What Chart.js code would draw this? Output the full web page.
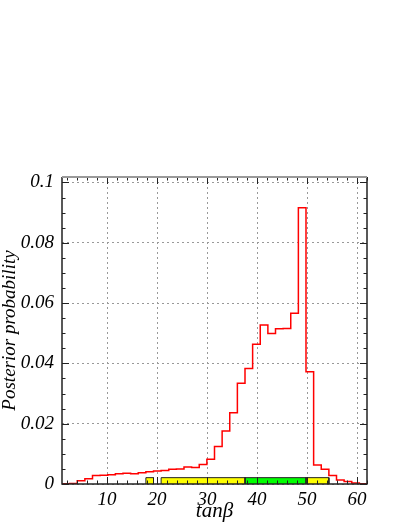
<!DOCTYPE html>
<html>
<head>
<meta charset="utf-8">
<script src="https://cdn.jsdelivr.net/npm/chart.js@4"></script>
<style>
  html, body { margin: 0; padding: 0; background: #fff; }
  #wrap { width: 407px; height: 527px; }
</style>
</head>
<body>
<div id="wrap"><canvas id="myChart" width="407" height="527"></canvas></div>
<script>
// histogram bin edges (tan beta) and posterior per bin
const binEdges = [1, 2.525, 4.05, 5.575, 7.1, 8.625, 10.15, 11.675, 13.2, 14.725, 16.25, 17.775,
    19.3, 20.825, 22.35, 23.875, 25.4, 26.925, 28.45, 29.975, 31.5, 33.025, 34.55, 36.075, 37.6,
    39.125, 40.65, 42.175, 43.7, 45.225, 46.75, 48.275, 49.8, 51.325, 52.85, 54.375, 55.9, 57.425,
    58.95, 60.475, 62];
const posterior = [0.0001, 0.0002, 0.0011, 0.0017, 0.0028, 0.0029, 0.0031, 0.0034, 0.0036, 0.0034,
    0.0037, 0.0041, 0.0043, 0.0045, 0.0049, 0.0050, 0.0056, 0.0055, 0.0065, 0.0082,
    0.0124, 0.0176, 0.0236, 0.0334, 0.0383, 0.0463, 0.0527, 0.0499, 0.0515, 0.0516,
    0.0566, 0.0916, 0.0372, 0.0063, 0.0049, 0.0028, 0.0013, 0.0008, 0.0003, 0.0001];

// credible interval bands along the axis
const bandFrom = [17.775, 20.825, 37.6, 49.8];
const bandTo = [19.3, 37.6, 49.8, 54.375];
const bandColors = ['#ffff00', '#ffff00', '#00ff00', '#ffff00'];
const bandHeight = 0.0021;

const xTicks = [10, 20, 30, 40, 50, 60];
const yTicks = [0, 0.02, 0.04, 0.06, 0.08, 0.1];
const yTickLabels = ['0', '0.02', '0.04', '0.06', '0.08', '0.1'];

const serif = 'Liberation Serif';

let histPoints = posterior.map((v, i) => ({x: binEdges[i], y: v}));
histPoints.push({x: binEdges[binEdges.length - 1], y: posterior[posterior.length - 1]});

let datasets = [];
bandFrom.forEach((a, i) => {
    let b = bandTo[i];
    datasets.push({
        data: [{x: a, y: 0}, {x: a, y: bandHeight}, {x: b, y: bandHeight}, {x: b, y: 0}],
        showLine: true,
        fill: 'origin',
        backgroundColor: bandColors[i],
        borderColor: '#222',
        borderWidth: 1,
        pointRadius: 0,
        order: 0
    });
});
datasets.push({
    data: histPoints,
    showLine: true,
    stepped: true,
    fill: false,
    borderColor: '#ff0000',
    borderWidth: 1.5,
    pointRadius: 0,
    order: 1
});

// frame and inward ticks on all four sides
const frameTicks = {
    id: 'frameTicks',
    afterDraw(chart) {
        let ctx = chart.ctx;
        let a = chart.chartArea;
        let xs = chart.scales.x, ys = chart.scales.y;
        ctx.save();
        ctx.strokeStyle = '#222';
        ctx.lineWidth = 1;
        ctx.beginPath();
        for (let v = 2; v <= 62; v += 2) {
            let px = Math.round(xs.getPixelForValue(v)) + 0.5;
            let len = (v % 10 === 0) ? 7 : 3.5;
            ctx.moveTo(px, a.bottom); ctx.lineTo(px, a.bottom - len);
            ctx.moveTo(px, a.top); ctx.lineTo(px, a.top + len);
        }
        for (let k = 0; k <= 20; k++) {
            let v = k * 0.005;
            let py = Math.round(ys.getPixelForValue(v)) + 0.5;
            let len = (k % 4 === 0) ? 7 : 3.5;
            ctx.moveTo(a.left, py); ctx.lineTo(a.left + len, py);
            ctx.moveTo(a.right, py); ctx.lineTo(a.right - len, py);
        }
        ctx.stroke();
        ctx.lineWidth = 1.5;
        ctx.strokeStyle = '#222';
        ctx.beginPath();
        ctx.moveTo(a.left, a.top); ctx.lineTo(a.left, a.bottom);
        ctx.lineTo(a.right, a.bottom); ctx.lineTo(a.right, a.top);
        ctx.stroke();
        ctx.strokeStyle = '#999';
        ctx.lineWidth = 2;
        ctx.beginPath();
        ctx.moveTo(a.left, a.top); ctx.lineTo(a.right, a.top);
        ctx.stroke();
        ctx.restore();
    }
};

let ctx = document.getElementById('myChart').getContext('2d');
let chart = new Chart(ctx, {
    type: 'scatter',
    data: { datasets: datasets },
    options: {
        responsive: false,
        animation: false,
        layout: { padding: { top: 177, right: 40, left: 0, bottom: 0 } },
        plugins: { legend: { display: false }, tooltip: { enabled: false } },
        scales: {
            x: {
                type: 'linear',
                min: 1,
                max: 62,
                afterFit: (s) => { s.height = 43; },
                afterBuildTicks: (s) => { s.ticks = xTicks.map(v => ({value: v})); },
                grid: { color: '#999', lineWidth: 1, drawTicks: false },
                border: { display: false, dash: [2, 3] },
                ticks: {
                    color: '#000',
                    padding: 5,
                    maxRotation: 0,
                    font: { family: serif, style: 'italic', size: 19 },
                    callback: (v) => String(v)
                },
                title: {
                    display: true,
                    text: 'tanβ',
                    color: '#000',
                    padding: { top: 0, bottom: 5 },
                    font: { family: serif, style: 'italic', size: 21, lineHeight: 1 }
                }
            },
            y: {
                min: 0,
                max: 0.1018,
                afterFit: (s) => { s.width = 62; },
                afterBuildTicks: (s) => { s.ticks = yTicks.map(v => ({value: v})); },
                grid: { color: '#999', lineWidth: 1, drawTicks: false },
                border: { display: false, dash: [2, 3] },
                ticks: {
                    color: '#000',
                    padding: 8,
                    font: { family: serif, style: 'italic', size: 19 },
                    callback: (v, i) => yTickLabels[i]
                },
                title: {
                    display: true,
                    text: 'Posterior probability',
                    color: '#000',
                    padding: { top: 0, bottom: 0 },
                    font: { family: serif, style: 'italic', size: 19, lineHeight: 1 }
                }
            }
        }
    },
    plugins: [frameTicks]
});
</script>
</body>
</html>
